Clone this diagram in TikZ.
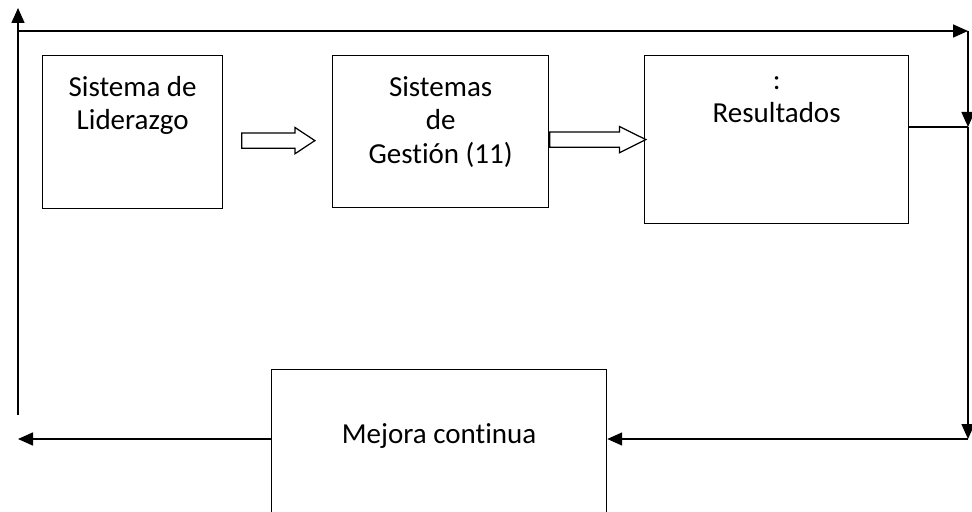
\documentclass[tikz,border=0pt]{standalone}
\usepackage{fontspec}
\setmainfont{Carlito}[Ligatures=NoCommon]
\usetikzlibrary{positioning,calc,arrows.meta,shapes.arrows}

\begin{document}
\begin{tikzpicture}[
    caja/.style={rectangle, draw, line width=0.7pt, inner sep=0pt, anchor=north west},
    texto/.style={inner sep=0pt, align=center, font=\fontsize{16.5}{19}\selectfont, execute at begin node=\strut},
    flecha/.style={line width=0.9pt, -{Triangle[length=0.3cm, width=0.26cm]}},
    linea/.style={line width=0.9pt},
    hueca/.style={single arrow, draw, line width=0.7pt, inner xsep=0pt, inner ysep=0.14cm, single arrow head extend=0.11cm, anchor=west}
]
    \clip (0,0) rectangle (19.44,10.22);

    \node[caja, minimum width=3.6cm, minimum height=3.06cm] (lid) at (0.84,9.12) {};
    \node[texto, below=0.42cm of lid.north] (lidtxt) {Sistema de\\Liderazgo};

    \node[caja, minimum width=4.32cm, minimum height=3.04cm] (ges) at (6.64,9.12) {};
    \node[texto, below=0.42cm of ges.north] (gestxt) {Sistemas\\de\\Gestión (11)};

    \node[caja, minimum width=5.28cm, minimum height=3.36cm] (res) at (12.88,9.12) {};
    \node[texto, below=0.42cm of res.north] (restxt) {:\\Resultados};

    \node[caja, minimum width=6.7cm, minimum height=3.5cm] (mej) at (5.42,2.84) {};
    \node[texto, below=1.01cm of mej.north] (mejtxt) {Mejora continua};

    \node[hueca, minimum height=1.46cm, single arrow tip angle=67, right=0.36cm of lid.east, yshift=-0.17cm] (hA) {};
    \node[hueca, minimum height=1.92cm, single arrow tip angle=53, right=0cm of ges.east, yshift=-0.16cm] (hB) {};

    \coordinate (izqAbajo) at (0.36,1.92);
    \coordinate (izqArriba) at (0.36,10.06);
    \coordinate (supIzq) at (0.36,9.6);
    \coordinate (supDer) at (19.36,9.6);
    \coordinate (derMedio) at (19.36,7.68);
    \coordinate (derAbajo) at (19.36,1.44);
    \coordinate (finIzq) at (0.36,1.44);

    \draw[flecha] (izqAbajo) -- (izqArriba);
    \draw[flecha] (supIzq) -- (supDer);
    \draw[flecha] (supDer) -- (derMedio);
    \draw[linea] (res.east |- derMedio) -- (derMedio);
    \draw[flecha] (derMedio) -- (derAbajo);
    \draw[flecha] (derAbajo) -- (mej.east |- derAbajo);
    \draw[flecha] (mej.west |- derAbajo) -- (finIzq);
\end{tikzpicture}
\end{document}
